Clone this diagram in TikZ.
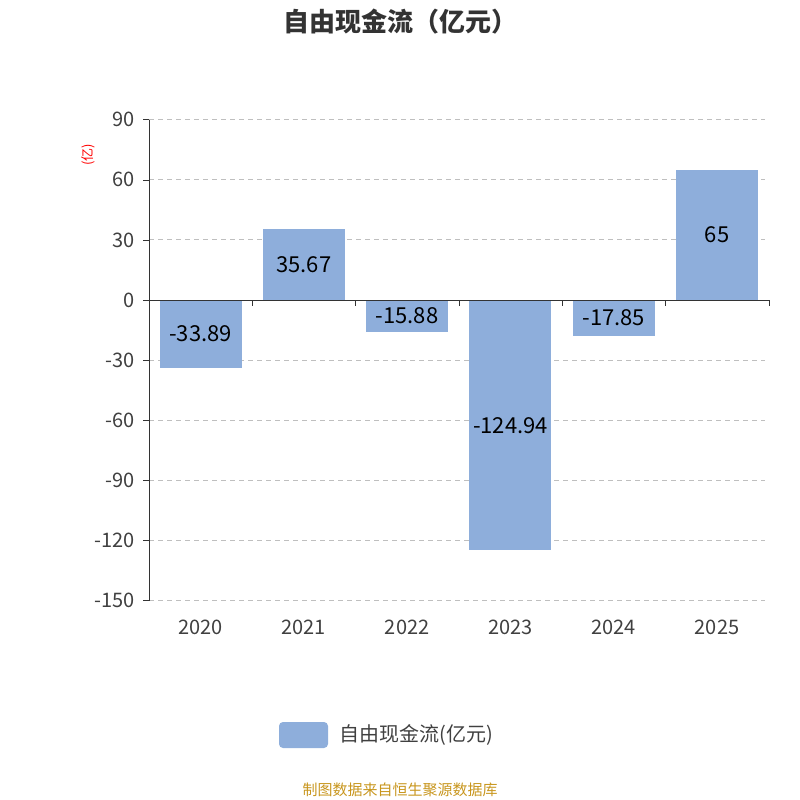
\documentclass[tikz,border=0pt]{standalone}
\usepackage{fontspec}
\setmainfont{Noto Sans CJK SC}
\begin{document}
\begin{tikzpicture}[x=1pt,y=-1pt,
  bar/.style={fill=barc,draw=none},
  grid/.style={draw=gray!50,dash pattern=on 5pt off 4pt,line width=0.8pt},
  tick/.style={font=\fontsize{20}{20}\selectfont,text=black!75},
  val/.style={font=\fontsize{22}{22}\selectfont,text=black}]
\definecolor{barc}{HTML}{8EAEDB}
\definecolor{src}{HTML}{C8961E}
\useasboundingbox (0,0) rectangle (800,800);
\node[font=\bfseries\fontsize{26}{26}\selectfont,text=black!80] (title) at (400,22) {自由现金流（亿元）};
\foreach \v in {90,60,...,-150}{
  \pgfmathsetmacro\yy{300-\v*2.004}
  \ifnum\v=0\else\draw[grid] (149,\yy) -- (765,\yy);\fi
  \draw[black!80] (143,\yy) -- (149,\yy);
  \node[tick,anchor=east] (t\v) at (138,\yy) {\v};
}
\node[rotate=90,text=red,font=\fontsize{13}{13}\selectfont] (unit) at (88,155) {(亿)};
\foreach \i/\y/\h in {0/2020/-33.89,1/2021/35.67,2/2022/-15.88,3/2023/-124.94,4/2024/-17.85,5/2025/65}{
  \pgfmathsetmacro\cx{200.5+\i*103.3}
  \pgfmathsetmacro\yy{300-\h*2.004}
  \path[bar] (\cx-41,300) rectangle (\cx+41,\yy);
  \node[val] (v\i) at (\cx,{(300+\yy)/2}) {\h};
  \node[tick] (x\i) at (\cx,627) {\y};
}
\draw[black!80,line width=0.8pt] (149,120) -- (149,601);
\draw[black!80,line width=0.8pt] (149,300) -- (769,300);
\foreach \i in {0,...,6}{\draw[black!80] (149+\i*103.3,300) -- (149+\i*103.3,306);}
\path[fill=barc,rounded corners=4pt] (279,722) rectangle (328,748);
\node[anchor=west,font=\fontsize{20}{20}\selectfont,text=black!75] (leg) at (336,735) {自由现金流(亿元)};
\node[text=src,font=\fontsize{15}{15}\selectfont] (source) at (400,790) {制图数据来自恒生聚源数据库};
\end{tikzpicture}
\end{document}
